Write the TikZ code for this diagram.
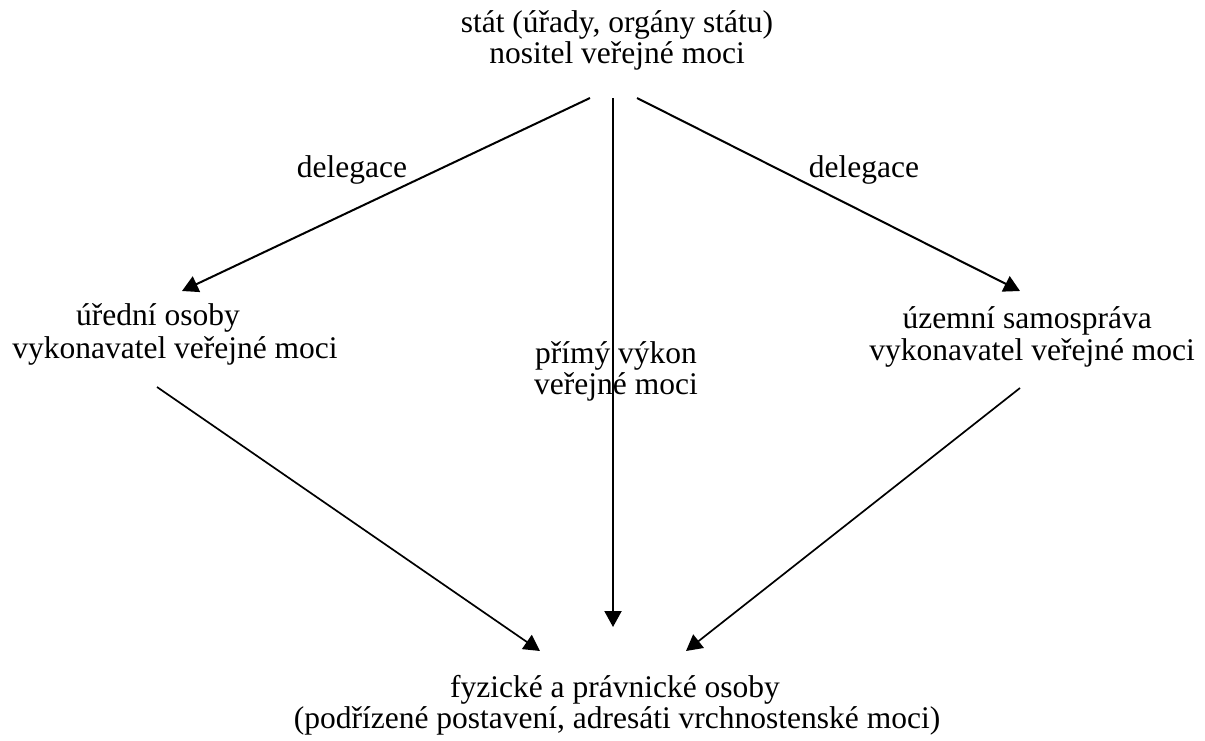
\documentclass[tikz,border=0pt]{standalone}
\usepackage{fontspec}
\setmainfont{Liberation Serif}
\usetikzlibrary{arrows.meta}
\begin{document}
\begin{tikzpicture}[x=1pt,y=-1pt,
  lbl/.style={inner sep=0pt,font=\fontsize{31.5}{32}\selectfont},
  arr/.style={line width=2pt,-{Triangle[length=16pt,width=17pt]}},
  arrthin/.style={line width=1.7pt,-{Triangle[length=16pt,width=17pt]}}]
\useasboundingbox (0,0) rectangle (1205,740);
% texts
\node[lbl,anchor=base] (top1) at (617,32) {stát (úřady, orgány státu)};
\node[lbl,anchor=base] (top2) at (617,63) {nositel veřejné moci};
\node[lbl,anchor=base] (dl) at (352,177) {delegace};
\node[lbl,anchor=base] (dr) at (864,177) {delegace};
\node[lbl,anchor=base] (l1) at (158,325) {úřední osoby};
\node[lbl,anchor=base] (l2) at (175,358) {vykonavatel veřejné moci};
\node[lbl,anchor=base] (m1) at (616,363) {přímý výkon};
\node[lbl,anchor=base] (m2) at (616,394) {veřejné moci};
\node[lbl,anchor=base east] (r1) at (1152,328) {územní samospráva};
\node[lbl,anchor=base east] (r2) at (1195,360) {vykonavatel veřejné moci};
\node[lbl,anchor=base] (b1) at (615,697) {fyzické a právnické osoby};
\node[lbl,anchor=base] (b2) at (617,728) {(podřízené postavení, adresáti vrchnostenské moci)};
% connector ends
\coordinate (sA) at (590,98);
\coordinate (sB) at (613,98);
\coordinate (sC) at (637,98);
\coordinate (eA) at (182,291);
\coordinate (eB) at (613,627);
\coordinate (eC) at (1020,291);
\coordinate (sD) at (157,387);
\coordinate (eD) at (540,651);
\coordinate (sE) at (1020,388);
\coordinate (eE) at (686,651);
\draw[arr] (sA) -- (eA);
\draw[arr] (sB) -- (eB);
\draw[arr] (sC) -- (eC);
\draw[arrthin] (sD) -- (eD);
\draw[arrthin] (sE) -- (eE);
\end{tikzpicture}
\end{document}
